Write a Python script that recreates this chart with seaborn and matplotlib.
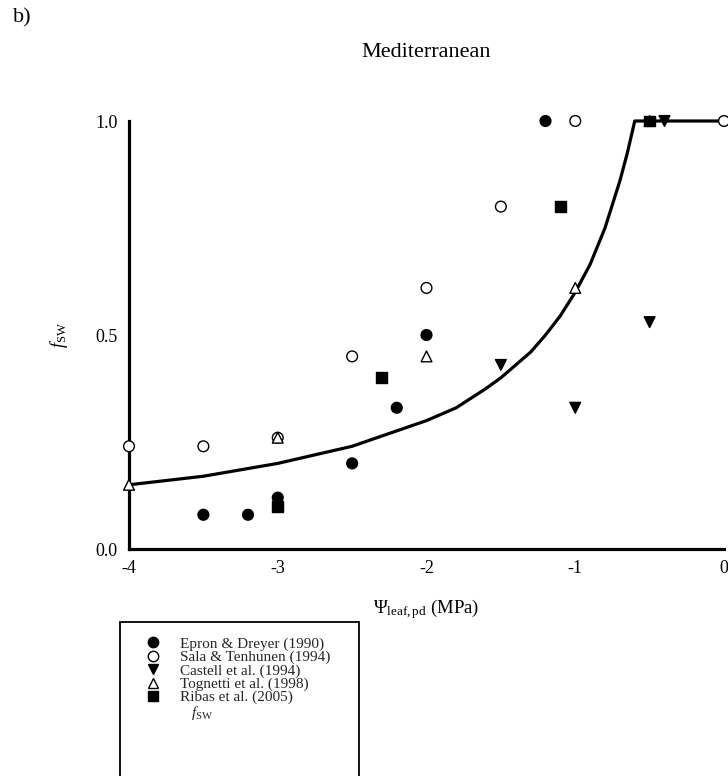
import matplotlib
matplotlib.use("Agg")
import matplotlib.pyplot as plt
import numpy as np
import pandas as pd
import seaborn as sns
from matplotlib.lines import Line2D
from matplotlib.patches import Rectangle

# Leaf pre-dawn water potential (MPa) vs. relative soil-water factor, per study
epron_psi = [-3.5, -3.2, -3.0, -2.5, -2.2, -2.0, -1.2]
epron_f = [0.08, 0.08, 0.12, 0.20, 0.33, 0.50, 1.00]
sala_psi = [-4.0, -3.5, -3.0, -2.5, -2.0, -1.5, -1.0, 0.0]
sala_f = [0.24, 0.24, 0.26, 0.45, 0.61, 0.80, 1.00, 1.00]
castell_psi = [-1.5, -1.0, -0.5, -0.4]
castell_f = [0.43, 0.33, 0.53, 1.00]
tognetti_psi = [-4.0, -3.0, -2.0, -1.0, -0.5]
tognetti_f = [0.15, 0.26, 0.45, 0.61, 1.00]
ribas_psi = [-3.0, -2.3, -1.1, -0.5]
ribas_f = [0.10, 0.40, 0.80, 1.00]

studies = ["Epron & Dreyer (1990)", "Sala & Tenhunen (1994)", "Castell et al. (1994)",
           "Tognetti et al. (1998)", "Ribas et al. (2005)"]

# fitted f_SW response curve
curve_psi = [-4.0, -3.75, -3.5, -3.25, -3.0, -2.75, -2.5, -2.25, -2.0, -1.8,
             -1.6, -1.5, -1.4, -1.3, -1.2, -1.1, -1.0, -0.9, -0.8, -0.7,
             -0.65, -0.6, 0.0]
curve_f = [0.15, 0.16, 0.17, 0.185, 0.20, 0.22, 0.24, 0.27, 0.30, 0.33,
           0.375, 0.40, 0.43, 0.46, 0.50, 0.545, 0.60, 0.665, 0.75, 0.86,
           0.925, 1.00, 1.00]

x_ticks = [-4, -3, -2, -1, 0]
y_ticks = [0.0, 0.5, 1.0]

sns.set_theme(style="white")
plt.rcParams["font.family"] = ["Liberation Serif", "DejaVu Serif"]
plt.rcParams["mathtext.fontset"] = "custom"
plt.rcParams["mathtext.rm"] = "Liberation Serif"
plt.rcParams["mathtext.it"] = "Liberation Serif:italic"
plt.rcParams["axes.unicode_minus"] = False

frames = []
for name, xs, ys in zip(studies,
                        [epron_psi, sala_psi, castell_psi, tognetti_psi, ribas_psi],
                        [epron_f, sala_f, castell_f, tognetti_f, ribas_f]):
    frames.append(pd.DataFrame({"psi": xs, "f": ys, "study": name}))
df = pd.concat(frames, ignore_index=True)

faces = dict(zip(studies, ["black", "white", "black", "white", "black"]))
marks = dict(zip(studies, ["o", "o", "v", "^", "s"]))

fig = plt.figure(figsize=(7.28, 7.76), dpi=100)
W, H = 728, 776
ax = fig.add_axes([129 / W, 1 - 549 / H, 595 / W, 428 / H])

sns.lineplot(x=curve_psi, y=curve_f, color="black", linewidth=2.3, estimator=None,
             sort=False, ax=ax, clip_on=False, zorder=2)
sns.scatterplot(data=df, x="psi", y="f", hue="study", style="study", palette=faces,
                markers=marks, s=60, edgecolor="black", linewidth=1.0, legend=False,
                ax=ax, clip_on=False, zorder=3)

ax.set_xlim(-4, 0)
ax.set_ylim(0, 1)
ax.set_xticks(x_ticks)
ax.set_xticklabels([f"{v:d}" for v in x_ticks])
ax.set_yticks(y_ticks)
ax.set_yticklabels([f"{v:.1f}" for v in y_ticks])
for side in ["top", "right"]:
    ax.spines[side].set_visible(False)
for side in ["left", "bottom"]:
    ax.spines[side].set_color("black")
    ax.spines[side].set_linewidth(2.3)
ax.tick_params(direction="in", length=4, width=2, colors="black", labelsize=13, pad=8)

ax.set_xlabel(r"$\Psi_{\mathrm{leaf,pd}}$ (MPa)", fontsize=13.5, color="black")
ax.xaxis.set_label_coords(0.5, -0.112)
ax.set_ylabel(r"$\mathit{f}_{\mathrm{SW}}$", fontsize=13, color="black")
ax.yaxis.set_label_coords(-0.10, 0.5)
ax.set_title("Mediterranean", fontsize=16, color="black", pad=46)
fig.text(13 / W, 1 - 18 / H, "b)", fontsize=16, va="center", ha="left", color="black")

# legend: marker entries plus the curve label, inside an open-bottom frame
handles = [Line2D([], [], linestyle="none", marker=marks[s], markerfacecolor=faces[s],
                  markeredgecolor="black", markersize=7.5) for s in studies]
handles.append(Line2D([], [], linestyle="none"))
labels = studies + [r"$\quad\mathit{f}_{\mathrm{SW}}$"]
fig.legend(handles, labels, loc="upper left", bbox_to_anchor=(145.5 / W, 1 - 637 / H),
           frameon=False, fontsize=11, labelspacing=-0.03, handlelength=1.0,
           handletextpad=1.25, borderpad=0, borderaxespad=0)
fig.add_artist(Rectangle((120 / W, -0.05), (359 - 120) / W, (1 - 622 / H) + 0.05,
                         transform=fig.transFigure, fill=False, edgecolor="black",
                         linewidth=1.3))

fig.savefig("out.png", dpi=100)
